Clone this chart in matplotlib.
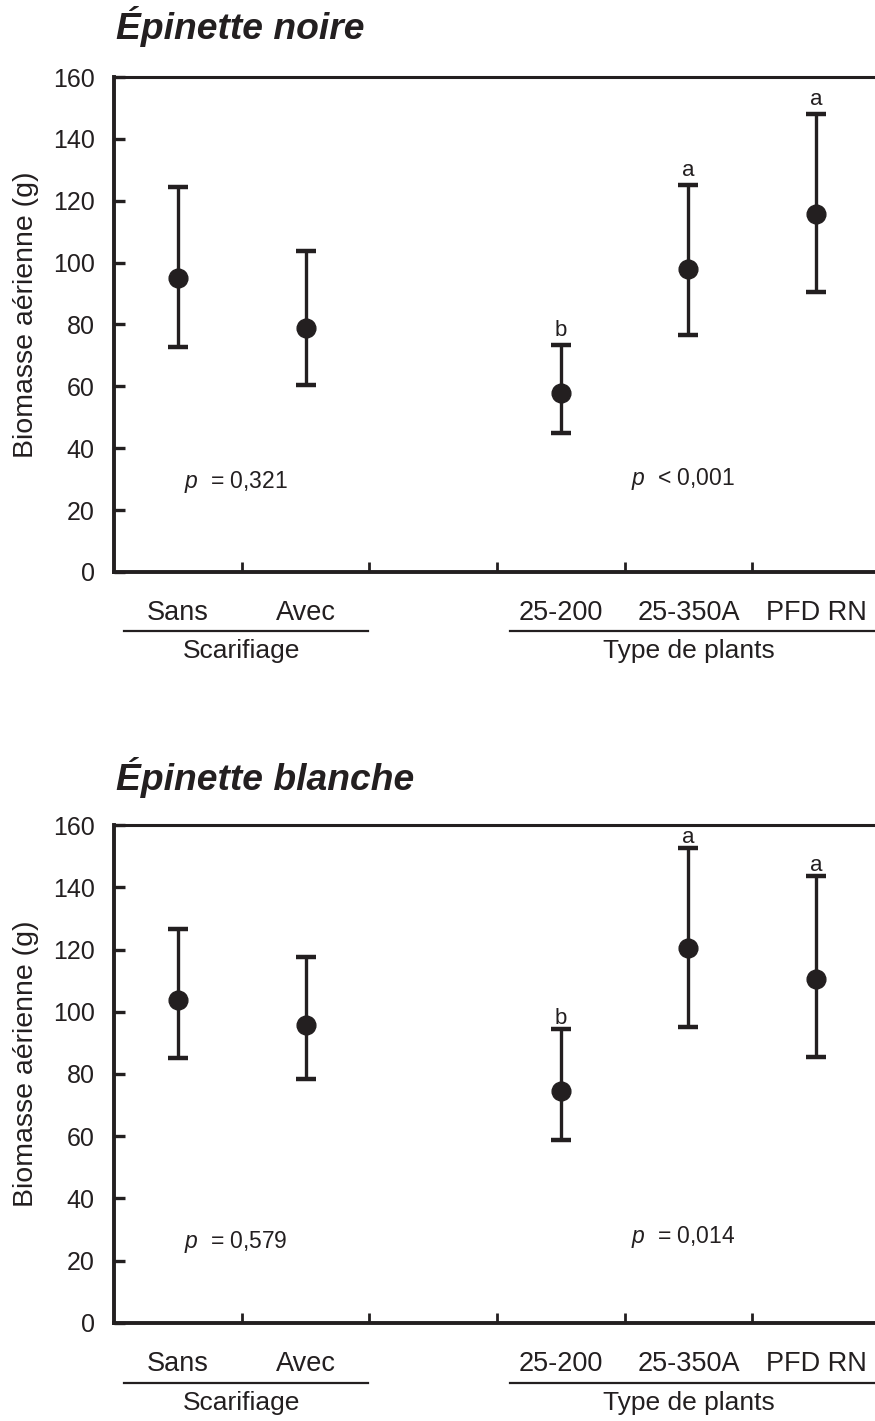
import numpy as np
import matplotlib
matplotlib.use("Agg")
import matplotlib.pyplot as plt

plt.rcParams['font.family'] = ['Liberation Sans', 'DejaVu Sans']
plt.rcParams['mathtext.fontset'] = 'custom'
plt.rcParams['mathtext.rm'] = 'Liberation Sans'
plt.rcParams['mathtext.it'] = 'Liberation Sans:italic'

# categories (slot 2.5 left empty between the two groups)
categories = ['Sans', 'Avec', '25-200', '25-350A', 'PFD RN']
positions = [0.5, 1.5, 3.5, 4.5, 5.5]
groups = ['Scarifiage', 'Type de plants']

# Epinette noire
noire_mean = [94.9, 78.9, 57.9, 97.8, 115.7]
noire_upper = [124.5, 103.8, 73.3, 125.1, 148.0]
noire_lower = [72.7, 60.4, 45.0, 76.7, 90.5]
noire_letters = ['', '', 'b', 'a', 'a']
noire_p = ['$\\it{p}$  = 0,321', '$\\it{p}$  < 0,001']

# Epinette blanche
blanche_mean = [103.8, 95.7, 74.5, 120.4, 110.4]
blanche_upper = [126.5, 117.5, 94.4, 152.5, 143.5]
blanche_lower = [85.2, 78.4, 58.9, 95.0, 85.4]
blanche_letters = ['', '', 'b', 'a', 'a']
blanche_p = ['$\\it{p}$  = 0,579', '$\\it{p}$  = 0,014']

ink = '#231f20'

fig = plt.figure(figsize=(8.75, 14.21), dpi=100)


def panel(rect, title, title_y, mean, upper, lower, letters, ptexts, ptext_y, letter_off):
    ax = fig.add_axes(rect)
    mean = np.array(mean)
    yerr = [mean - np.array(lower), np.array(upper) - mean]
    ax.errorbar(positions, mean, yerr=yerr, fmt='o', color=ink, ms=13.5,
                elinewidth=2.4, capsize=7.5, capthick=3.2, clip_on=False)
    for x, u, l in zip(positions, upper, letters):
        if l:
            ax.annotate(l, (x, u), xytext=(0, letter_off), textcoords='offset points',
                        ha='center', va='bottom', fontsize=16, color=ink)
    ax.text(0.55, ptext_y[0], ptexts[0], fontsize=16.5, color=ink, ha='left', va='center')
    ax.text(4.05, ptext_y[1], ptexts[1], fontsize=16.5, color=ink, ha='left', va='center')

    ax.set_xlim(0, 6)
    ax.set_ylim(0, 160)
    ax.set_yticks(np.arange(0, 161, 20))
    ax.set_xticks([1, 2, 3, 4, 5])
    ax.set_xticklabels([])
    ax.set_xticks(positions, minor=True)
    ax.set_xticklabels(categories, minor=True)
    ax.tick_params(axis='x', which='major', direction='in', length=7, width=2, color=ink)
    ax.tick_params(axis='x', which='minor', length=0, pad=20, labelsize=19.5, labelcolor=ink)
    ax.tick_params(axis='y', direction='in', length=8, width=2.4, color=ink,
                   pad=14, labelsize=18, labelcolor=ink)
    for s in ['left', 'bottom']:
        ax.spines[s].set_linewidth(2.8)
        ax.spines[s].set_color(ink)
    for s in ['top', 'right']:
        ax.spines[s].set_linewidth(2.2)
        ax.spines[s].set_color(ink)
    ax.set_ylabel('Biomasse aérienne (g)', fontsize=20.5, color=ink)
    ax.yaxis.set_label_coords(-0.098, 0.52)

    tr = ax.get_xaxis_transform()
    ax.plot([0.08, 1.99], [-0.12, -0.12], transform=tr, color=ink, lw=1.6, clip_on=False)
    ax.plot([3.1, 6.2], [-0.12, -0.12], transform=tr, color=ink, lw=1.6, clip_on=False)
    ax.text(1.0, -0.16, groups[0], transform=tr, ha='center', va='center',
            fontsize=19, color=ink)
    ax.text(4.5, -0.16, groups[1], transform=tr, ha='center', va='center',
            fontsize=19, color=ink)

    fig.text(0.133, title_y, title, fontsize=26.8, fontweight='bold', fontstyle='italic',
             color=ink, ha='left', va='baseline')
    return ax


panel([0.1303, 0.5975, 0.8754, 0.3483], 'Épinette noire', 0.9726,
      noire_mean, noire_upper, noire_lower, noire_letters, noire_p, [29, 30], 3)
panel([0.1303, 0.0690, 0.8754, 0.3504], 'Épinette blanche', 0.4441,
      blanche_mean, blanche_upper, blanche_lower, blanche_letters, blanche_p, [26, 27.5], 0)

fig.savefig('out.png', dpi=100)
